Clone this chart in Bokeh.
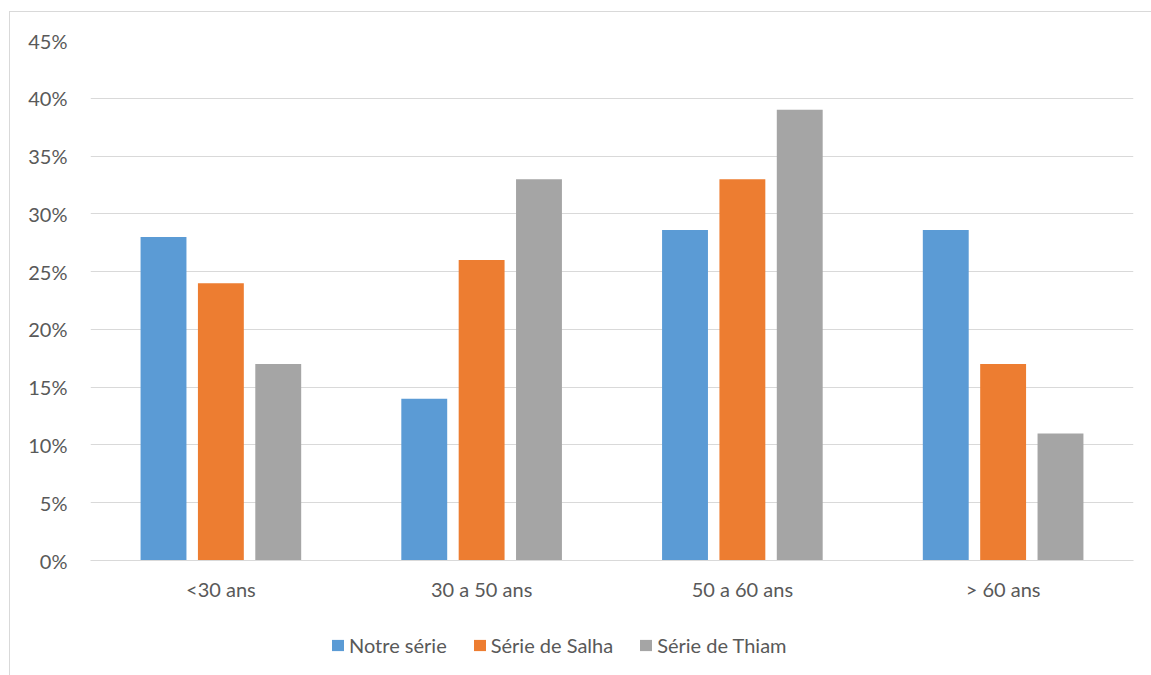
from bokeh.plotting import figure
from bokeh.layouts import column
from bokeh.models import (ColumnDataSource, FactorRange, Range1d, FixedTicker,
                          NumeralTickFormatter, Legend, LegendItem)
from bokeh.transform import dodge
from bokeh.embed import file_html
from bokeh.resources import INLINE

# Age groups and the share of patients in each series
categories = ["<30 ans", "30 a 50 ans", "50 a 60 ans", "> 60 ans"]
notre_serie = [0.28, 0.14, 0.286, 0.286]
serie_salha = [0.24, 0.26, 0.33, 0.17]
serie_thiam = [0.17, 0.33, 0.39, 0.11]
y_ticks = [0.0, 0.05, 0.10, 0.15, 0.20, 0.25, 0.30, 0.35, 0.40, 0.45]

series = [
    ("Notre série", "notre", "#5B9BD5", -0.22),
    ("Série de Salha", "salha", "#ED7D31", 0.0),
    ("Série de Thiam", "thiam", "#A5A5A5", 0.22),
]

source = ColumnDataSource(data=dict(
    cat=categories, notre=notre_serie, salha=serie_salha, thiam=serie_thiam))

FONT = "Lato"
FSIZE = "20px"
TEXT = "#595959"
GRID = "#D9D9D9"
WIDTH = 1142

# Main bar chart
p = figure(
    width=WIDTH, height=600,
    x_range=FactorRange(*categories, range_padding=0),
    y_range=Range1d(0, 0.45),
    output_backend="svg", toolbar_location=None,
    min_border_left=80, min_border_right=19,
    min_border_top=28, min_border_bottom=52,
)
p.outline_line_color = None
p.border_fill_color = "white"

for label, col, color, off in series:
    p.vbar(x=dodge("cat", off, range=p.x_range), top=col, width=0.176,
           source=source, fill_color=color, line_color=None)

p.yaxis.ticker = FixedTicker(ticks=y_ticks)
p.yaxis.formatter = NumeralTickFormatter(format="0%")
p.yaxis.axis_line_color = None
p.yaxis.major_tick_line_color = None
p.yaxis.minor_tick_line_color = None
p.yaxis.major_label_standoff = 17
p.yaxis.major_label_text_font = FONT
p.yaxis.major_label_text_font_size = FSIZE
p.yaxis.major_label_text_color = TEXT

p.xaxis.axis_line_color = GRID
p.xaxis.major_tick_line_color = None
p.xaxis.minor_tick_line_color = None
p.xaxis.major_label_standoff = 10
p.xaxis.major_label_text_font = FONT
p.xaxis.major_label_text_font_size = FSIZE
p.xaxis.major_label_text_color = TEXT

p.xgrid.grid_line_color = None
p.ygrid.ticker = FixedTicker(ticks=y_ticks)
p.ygrid.grid_line_color = GRID
p.ygrid.grid_line_width = 1

# Legend strip underneath: same series, bars kept outside the visible range
lf = figure(
    width=WIDTH, height=64,
    x_range=FactorRange(*categories), y_range=Range1d(10, 11),
    output_backend="svg", toolbar_location=None,
    x_axis_location=None, y_axis_location=None,
    min_border_left=0, min_border_right=0, min_border_top=0, min_border_bottom=0,
)
lf.outline_line_color = None
lf.xgrid.grid_line_color = None
lf.ygrid.grid_line_color = None

items = []
for label, col, color, off in series:
    r = lf.vbar(x=dodge("cat", off, range=lf.x_range), top=col, width=0.176,
                source=source, fill_color=color, line_color=None)
    items.append(LegendItem(label=label, renderers=[r]))

legend = Legend(
    items=items, orientation="horizontal", location=(240, 19),
    border_line_color=None, background_fill_alpha=0,
    padding=0, margin=0, spacing=25,
    glyph_width=15, glyph_height=14, label_standoff=4,
    label_text_font=FONT, label_text_font_size=FSIZE, label_text_color=TEXT,
)
lf.add_layout(legend, "center")

layout = column(p, lf, spacing=0)
layout.margin = (11, 0, 0, 9)
layout.styles = {"border-left": "1px solid #D9D9D9", "border-top": "1px solid #D9D9D9"}

open("out.html", "w").write(file_html(layout, INLINE))
